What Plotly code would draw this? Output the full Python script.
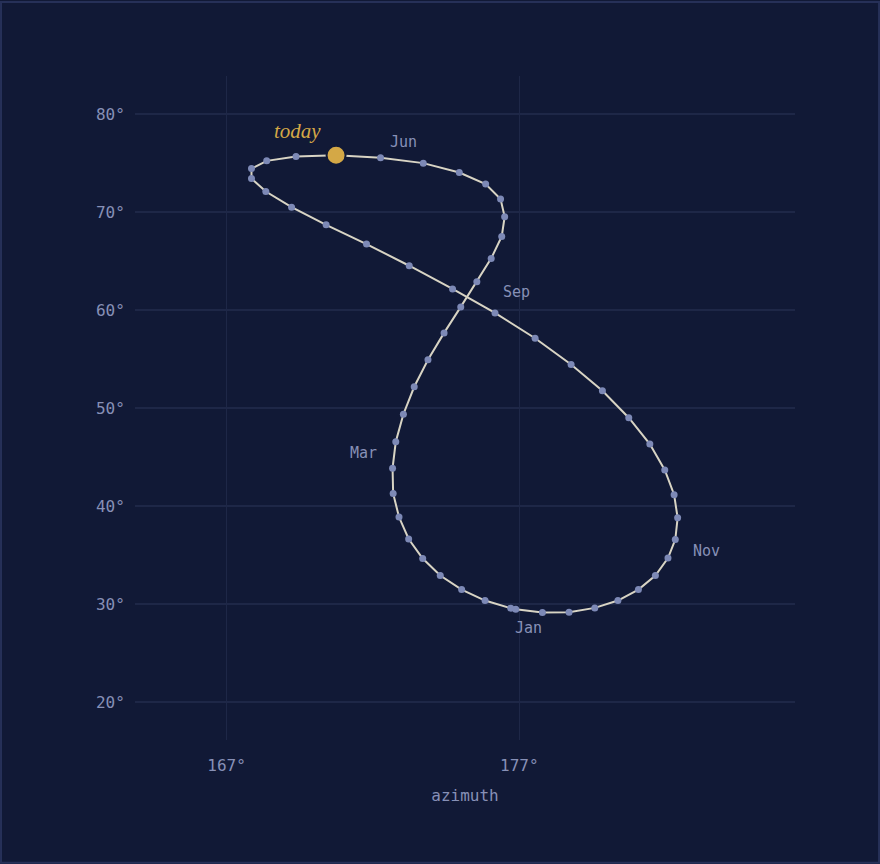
import plotly.graph_objects as go

# weekly sun position at the same clock time (azimuth / altitude, degrees)
azimuth = [176.71, 175.83, 175.03, 174.30, 173.70, 173.22, 172.89, 172.69, 172.67, 172.78,
           173.04, 173.41, 173.88, 174.43, 175.00, 175.55, 176.04, 176.40, 176.50, 176.36,
           175.85, 174.95, 173.72, 172.26, 170.74, 169.37, 168.37, 167.85, 167.85, 168.34,
           169.22, 170.40, 171.78, 173.24, 174.72, 176.17, 177.54, 178.77, 179.84, 180.74,
           181.46, 181.97, 182.29, 182.41, 182.33, 182.08, 181.65, 181.07, 180.37, 179.58,
           178.70, 177.79, 176.88]
altitude = [29.60, 30.38, 31.50, 32.93, 34.66, 36.66, 38.90, 41.31, 43.89, 46.58,
            49.39, 52.19, 54.94, 57.69, 60.34, 62.91, 65.29, 67.53, 69.54, 71.34,
            72.87, 74.05, 75.01, 75.55, 75.82, 75.68, 75.24, 74.46, 73.44, 72.11,
            70.52, 68.72, 66.75, 64.54, 62.17, 59.72, 57.14, 54.46, 51.78, 49.03,
            46.34, 43.71, 41.18, 38.82, 36.60, 34.72, 32.93, 31.50, 30.38, 29.63,
            29.19, 29.16, 29.50]
today_idx = 24

month_names = ["Jan", "Mar", "Jun", "Sep", "Nov"]
month_az = [177.33, 171.69, 173.06, 176.89, 183.41]
month_alt = [27.56, 45.39, 77.18, 61.89, 35.40]

bg = "#111936"
grid = "#1e2747"
muted = "#8790b6"
gold = "#d4a846"
mono = "DejaVu Sans Mono"

fig = go.Figure()

fig.add_trace(go.Scatter(
    x=azimuth, y=altitude, mode="lines+markers",
    line=dict(color="#d8d4c4", width=2),
    marker=dict(color="#7d89b6", size=7),
    hoverinfo="skip", showlegend=False,
))

fig.add_trace(go.Scatter(
    x=[azimuth[today_idx]], y=[altitude[today_idx]], mode="markers",
    marker=dict(color=gold, size=19, line=dict(color=bg, width=2)),
    hoverinfo="skip", showlegend=False,
))

fig.add_annotation(
    x=azimuth[today_idx], y=altitude[today_idx], text="today", showarrow=False,
    xanchor="right", yanchor="middle", xshift=-13, yshift=24,
    font=dict(family="Liberation Serif", size=21, color=gold, style="italic"),
)

for name, a, h in zip(month_names, month_az, month_alt):
    fig.add_annotation(x=a, y=h, text=name, showarrow=False,
                       font=dict(family=mono, size=15, color=muted))

# thin frame round the whole page
fig.add_shape(type="rect", xref="paper", yref="paper",
              x0=-0.2030, x1=1.1273, y0=-0.185, y1=1.1113,
              line=dict(color="#263058", width=2), layer="below")

fig.update_layout(
    width=880, height=864,
    paper_bgcolor=bg, plot_bgcolor=bg,
    margin=dict(l=135, r=85, t=76, b=124),
    font=dict(family=mono, size=16, color=muted),
    xaxis=dict(
        range=[163.87, 186.42], tick0=167, dtick=10, ticksuffix="°",
        showgrid=True, gridcolor=grid, gridwidth=1, zeroline=False, showline=False,
        ticks="outside", ticklen=11, tickcolor="rgba(0,0,0,0)",
        title=dict(text="azimuth", font=dict(family=mono, size=16, color=muted), standoff=15),
    ),
    yaxis=dict(
        range=[16.15, 83.9], tick0=0, dtick=10, ticksuffix="°",
        showgrid=True, gridcolor=grid, gridwidth=1.5, zeroline=False, showline=False,
        ticks="outside", ticklen=6, tickcolor="rgba(0,0,0,0)",
    ),
)

# page default margin would push the chart 8px in
fig.write_html("out.html", config={"displayModeBar": False},
               post_script="document.body.style.margin='0';")
